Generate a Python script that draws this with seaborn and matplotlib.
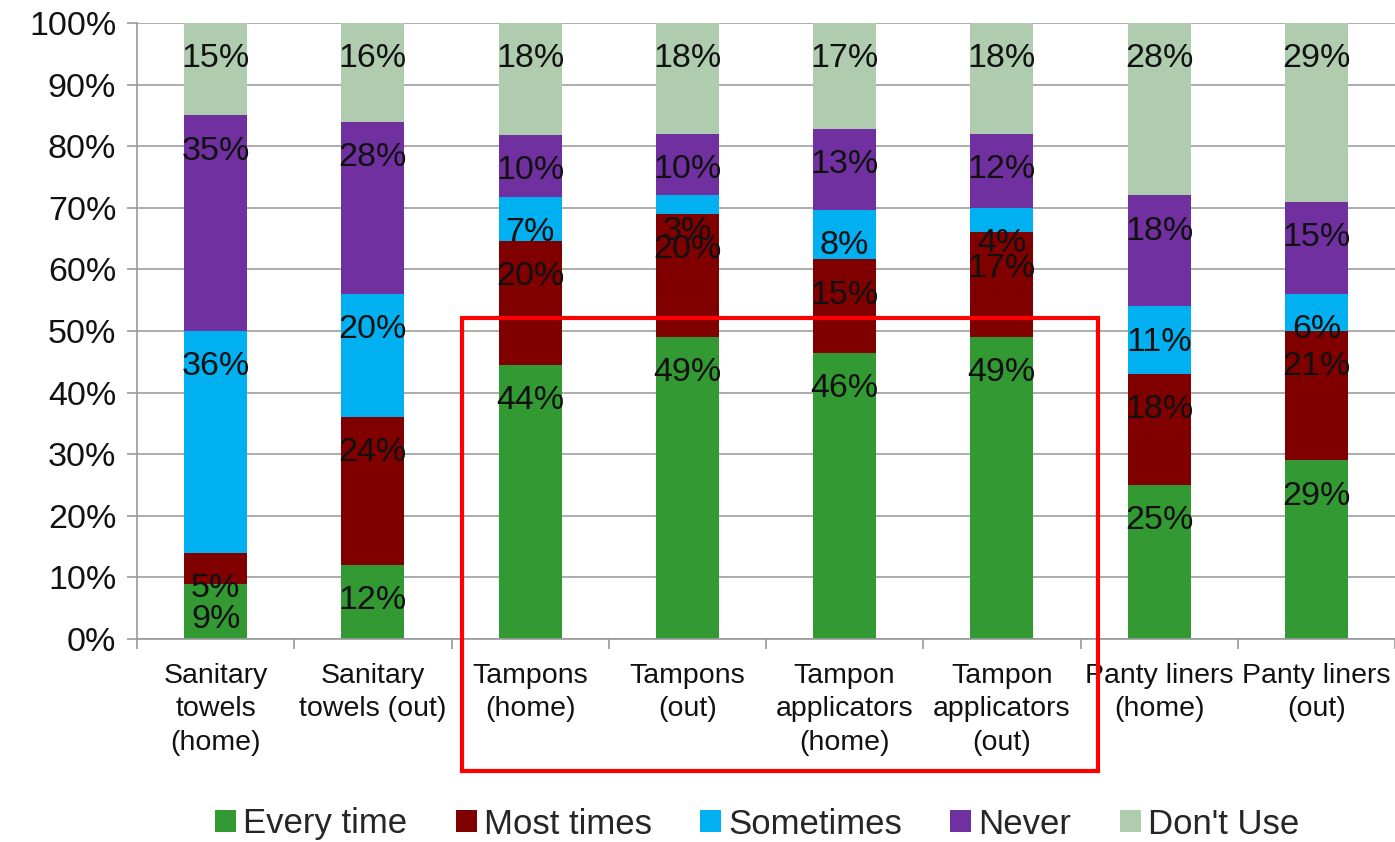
import matplotlib
matplotlib.use("Agg")
import matplotlib.pyplot as plt
from matplotlib.patches import Patch, Rectangle
from matplotlib.ticker import FixedLocator
import numpy as np
import pandas as pd
import seaborn as sns

categories = [
    "Sanitary towels (home)", "Sanitary towels (out)", "Tampons (home)", "Tampons (out)",
    "Tampon applicators (home)", "Tampon applicators (out)", "Panty liners (home)", "Panty liners (out)",
]
tick_labels = [
    "Sanitary\ntowels\n(home)", "Sanitary\ntowels (out)", "Tampons\n(home)", "Tampons\n(out)",
    "Tampon\napplicators\n(home)", "Tampon\napplicators\n(out)", "Panty liners\n(home)", "Panty liners\n(out)",
]
series_names = ["Every time", "Most times", "Sometimes", "Never", "Don't Use"]
every_time = [9, 12, 44, 49, 46, 49, 25, 29]
most_times = [5, 24, 20, 20, 15, 17, 18, 21]
sometimes = [36, 20, 7, 3, 8, 4, 11, 6]
never = [35, 28, 10, 10, 13, 12, 18, 15]
dont_use = [15, 16, 18, 18, 17, 18, 28, 29]
colors = ["#339933", "#800000", "#00B0F0", "#7030A0", "#B0CCAE"]

sns.set_theme(style="white")
plt.rcParams["font.family"] = ["Liberation Sans", "DejaVu Sans"]

values = np.array([every_time, most_times, sometimes, never, dont_use], dtype=float)
# 100% stacked: each column is scaled to its own total
shares = values / values.sum(axis=0) * 100
tops = np.cumsum(shares, axis=0)

fig = plt.figure(figsize=(13.95, 8.42), dpi=100)
ax = fig.add_axes([137 / 1395, 1 - 639 / 842, 1 - 137 / 1395, (639 - 23) / 842])

# draw cumulative layers from the top of the stack downwards
for i in range(len(series_names) - 1, -1, -1):
    df = pd.DataFrame({"category": categories, "top": tops[i]})
    sns.barplot(data=df, x="category", y="top", order=categories, color=colors[i],
                width=0.4, saturation=1, ax=ax, zorder=2, linewidth=0)

for i in range(len(series_names)):
    for j in range(len(categories)):
        ax.text(j, tops[i][j] - 5.8, f"{int(values[i][j])}%", ha="center", va="center",
                fontsize=24.5, color="#111111", zorder=4)

ax.set_xlim(-0.5, len(categories) - 0.5)
ax.set_ylim(0, 100)
ax.set_yticks(np.arange(0, 101, 10))
ax.set_yticklabels([f"{v}%" for v in range(0, 101, 10)], fontsize=24.5, color="#111111")
ax.set_xticks(range(len(categories)))
ax.set_xticklabels(tick_labels, fontsize=20.5, color="#111111", linespacing=1.38)
ax.tick_params(axis="x", length=0, pad=17)
ax.tick_params(axis="y", length=7, width=1.2, color="#999999", direction="out", pad=8, left=True)
ax.xaxis.set_minor_locator(FixedLocator(np.arange(-0.5, len(categories), 1.0)))
ax.tick_params(axis="x", which="minor", length=7, width=1.2, color="#999999", direction="out", bottom=True)
ax.set_xlabel("")
ax.set_ylabel("")
ax.grid(axis="y", color="#A6A6A6", linewidth=1.3, zorder=0)
ax.set_axisbelow(True)
for side in ["top", "right"]:
    ax.spines[side].set_visible(False)
for side in ["left", "bottom"]:
    ax.spines[side].set_color("#999999")
    ax.spines[side].set_linewidth(1.2)

handles = [Patch(facecolor=c, edgecolor="none", label=n) for c, n in zip(colors, series_names)]
fig.legend(handles=handles, loc="center", bbox_to_anchor=(757 / 1395, 1 - 824 / 842), ncol=5,
           frameon=False, fontsize=25, handlelength=0.6, handleheight=0.6,
           handletextpad=0.2, columnspacing=1.4, borderaxespad=0)

fig.patches.append(Rectangle((462 / 1395, 1 - 771 / 842), (1098 - 462) / 1395, (771 - 318) / 842,
                             transform=fig.transFigure, fill=False, edgecolor="#FF0000",
                             linewidth=3, zorder=10))

fig.savefig("out.png", dpi=100)
